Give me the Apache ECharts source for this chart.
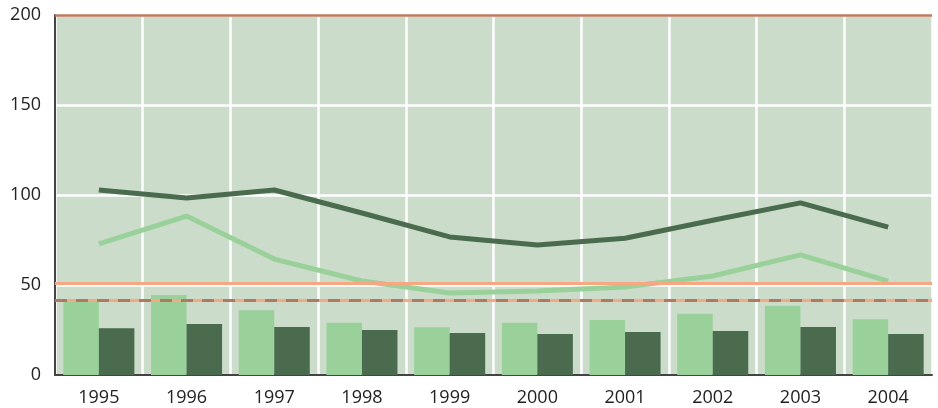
<!DOCTYPE html>
<html>
<head>
<meta charset="utf-8">
<script src="https://cdn.jsdelivr.net/npm/echarts@6/dist/echarts.min.js"></script>
<style>
	html, body { margin: 0; padding: 0; background: #fff; }
	#chart { width: 938px; height: 408px; }
</style>
</head>
<body>
<div id="chart"></div>
<script>
var years = ['1995','1996','1997','1998','1999','2000','2001','2002','2003','2004'];
var barLight = [41, 44.5, 36, 29, 26.5, 29, 30.5, 34, 38.5, 31];
var barDark = [26, 28.3, 26.7, 25, 23.3, 22.8, 23.9, 24.4, 26.7, 22.8];
var lineDark = [102.8, 98.3, 102.8, 90, 76.7, 72.2, 76, 86, 95.6, 82.2];
var lineLight = [72.8, 88.3, 64.4, 52.2, 45.6, 46.7, 48.9, 55, 66.7, 52.2];
var refSolid = 51;
var refDashed = 41.7;
var refTop = 200;

var chart = echarts.init(document.getElementById('chart'));
var font = 'Open Sans';

var option = {
	animation: false,
	grid: {
		left: 55, right: 6, top: 15, bottom: 33,
		show: true,
		backgroundColor: '#cbdccb',
		borderWidth: 0
	},
	xAxis: {
		type: 'category',
		data: years,
		boundaryGap: true,
		axisLine: { show: true, lineStyle: { color: '#444', width: 2 } },
		axisTick: { show: false },
		axisLabel: { color: '#222', fontSize: 18, fontFamily: font, margin: 14 },
		splitLine: { show: true, lineStyle: { color: '#fff', width: 2.5 } }
	},
	yAxis: {
		type: 'value',
		min: 0, max: 200, interval: 50,
		axisLine: { show: true, lineStyle: { color: '#444', width: 2 } },
		axisTick: { show: false },
		axisLabel: { color: '#222', fontSize: 18, fontFamily: font, margin: 14 },
		splitLine: { show: true, lineStyle: { color: '#fff', width: 2.5 } }
	},
	series: [
		{
			type: 'bar',
			data: barLight,
			barGap: '0%',
			barCategoryGap: '19%',
			itemStyle: { color: '#9ad19a' },
			z: 2
		},
		{
			type: 'bar',
			data: barDark,
			itemStyle: { color: '#4a6b4e' },
			z: 2,
			markLine: {
				silent: true,
				symbol: 'none',
				label: { show: false },
				data: [
					{ yAxis: refSolid, lineStyle: { color: '#f7a883', width: 3, type: 'solid' } },
					{ yAxis: refDashed, lineStyle: { color: '#f7a883', width: 3, type: 'solid' } },
					{ yAxis: refTop, lineStyle: { color: '#c07a60', width: 2.5, type: 'solid' } }
				]
			}
		},
		{
			type: 'line',
			data: lineDark,
			symbol: 'none',
			lineStyle: { color: '#4a6b4e', width: 5 },
			z: 4
		},
		{
			type: 'line',
			data: lineLight,
			symbol: 'none',
			lineStyle: { color: '#9ad19a', width: 5 },
			z: 4,
			markLine: {
				silent: true,
				symbol: 'none',
				label: { show: false },
				data: [
					{ yAxis: refDashed, lineStyle: { color: '#b07a62', width: 3, opacity: 1, type: [12, 9] } }
				]
			}
		}
	]
};
chart.setOption(option);
</script>
</body>
</html>
